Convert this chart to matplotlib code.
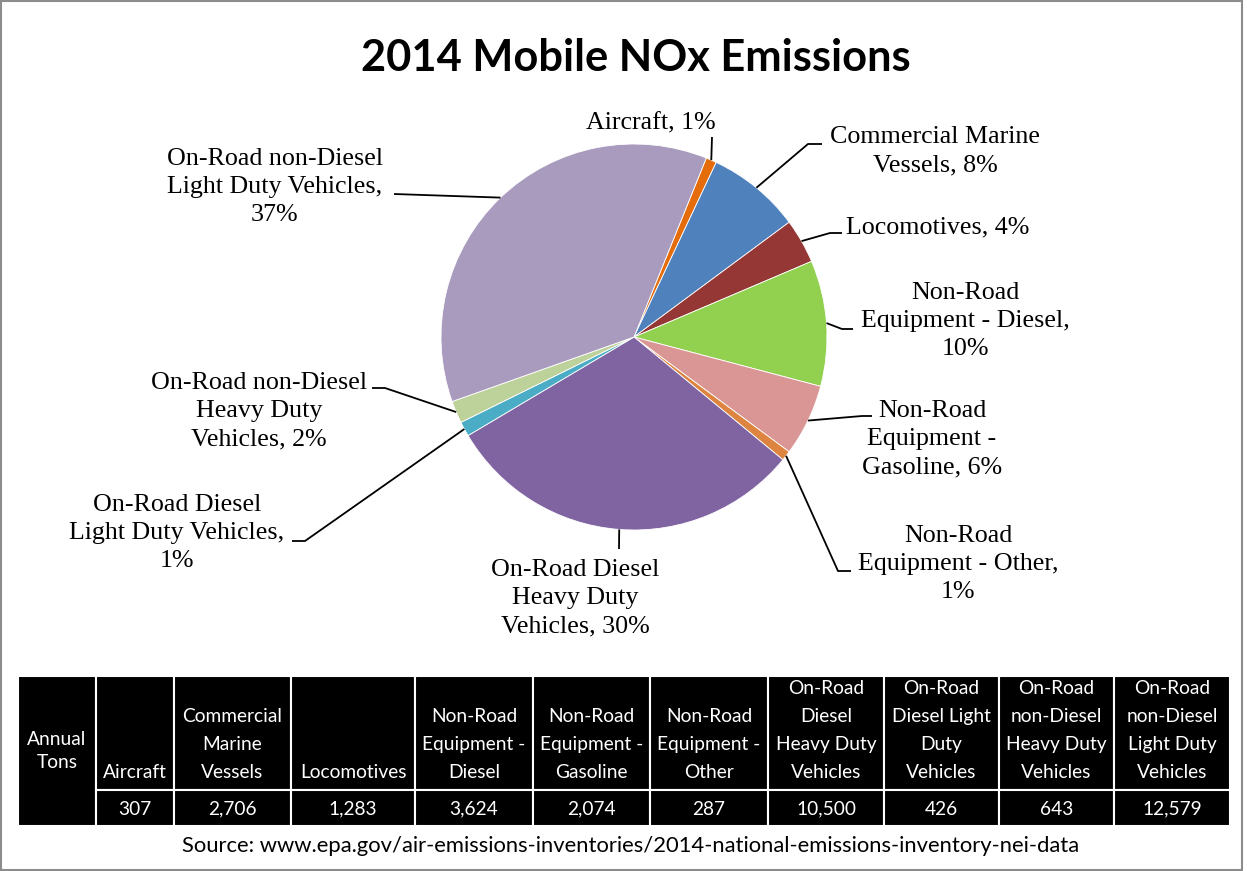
import matplotlib
matplotlib.use("Agg")
import matplotlib.pyplot as plt
from matplotlib.patches import Rectangle
import numpy as np

# ---------------- data ----------------
categories = ["Aircraft", "Commercial Marine Vessels", "Locomotives",
              "Non-Road Equipment - Diesel", "Non-Road Equipment - Gasoline",
              "Non-Road Equipment - Other", "On-Road Diesel Heavy Duty Vehicles",
              "On-Road Diesel Light Duty Vehicles", "On-Road non-Diesel Heavy Duty Vehicles",
              "On-Road non-Diesel Light Duty Vehicles"]
tons = [307, 2706, 1283, 3624, 2074, 287, 10500, 426, 643, 12579]
pie_labels = ["Aircraft, 1%", "Commercial Marine\nVessels, 8%", "Locomotives, 4%",
              "Non-Road\nEquipment - Diesel,\n10%", "Non-Road\nEquipment -\nGasoline, 6%",
              "Non-Road\nEquipment - Other,\n1%", "On-Road Diesel\nHeavy Duty\nVehicles, 30%",
              "On-Road Diesel\nLight Duty Vehicles,\n1%", "On-Road non-Diesel\nHeavy Duty\nVehicles, 2%",
              "On-Road non-Diesel\nLight Duty Vehicles,\n37%"]
table_headers = ["Aircraft", "Commercial\nMarine\nVessels", "Locomotives",
                 "Non-Road\nEquipment -\nDiesel", "Non-Road\nEquipment -\nGasoline",
                 "Non-Road\nEquipment -\nOther", "On-Road\nDiesel\nHeavy Duty\nVehicles",
                 "On-Road\nDiesel Light\nDuty\nVehicles", "On-Road\nnon-Diesel\nHeavy Duty\nVehicles",
                 "On-Road\nnon-Diesel\nLight Duty\nVehicles"]
table_values = ["307", "2,706", "1,283", "3,624", "2,074", "287", "10,500", "426", "643", "12,579"]
row_header = "Annual\nTons"
title = "2014 Mobile NOx Emissions"
source = "Source: www.epa.gov/air-emissions-inventories/2014-national-emissions-inventory-nei-data"

colors = ["#E46C0A", "#4F81BD", "#953735", "#92D050", "#D99694",
          "#DD8540", "#8064A2", "#4BACC6", "#BDD29A", "#A99BBD"]

# ---------------- layout (pixel space) ----------------
W, H = 1247, 871
fig = plt.figure(figsize=(W / 100, H / 100), dpi=100)
ax = fig.add_axes([0, 0, 1, 1])
renderer = fig.canvas.get_renderer()

def Y(y):
    return H - y

def fit(s, target, **kw):
    t = ax.text(0, 0, s, fontsize=10, **kw)
    w = t.get_window_extent(renderer=renderer).width
    t.remove()
    return 10 * target / w

SANS = ["Lato", "DejaVu Sans"]
SERIF = ["Liberation Serif", "DejaVu Serif"]

cx, cy, R = 634, 337, 193
wedges, _ = ax.pie(tons, colors=colors, startangle=68, counterclock=False,
                   center=(cx, Y(cy)), radius=R,
                   wedgeprops=dict(edgecolor="white", linewidth=0.6))
ax.set_xlim(0, W)
ax.set_ylim(0, H)
ax.set_aspect("auto")
ax.axis("off")

# label placement: (text center), elbow point, end point
label_layout = [
    ((651, 123), None, (712, 137)),
    ((935, 151), (808, 144), (822, 144)),
    ((938, 227), (830, 233), (842, 233)),
    ((965, 321), (842, 329), (853, 329)),
    ((932, 439), (862, 416), (872, 416)),
    ((958, 564), (838, 571), (851, 571)),
    ((575, 598), None, (619, 549)),
    ((177, 533), (305, 541), (292, 541)),
    ((259, 411), (385, 388), (372, 388)),
    ((275, 187), None, (394, 194)),
]

lab_fs = fit("Locomotives, 4%", 183, family=SERIF)
for w, lab, (tpos, elbow, end) in zip(wedges, pie_labels, label_layout):
    mid = np.deg2rad((w.theta1 + w.theta2) / 2)
    ex = cx + R * np.cos(mid)
    ey = Y(cy) + R * np.sin(mid)
    xs = [ex]
    ys = [ey]
    if elbow is not None:
        xs.append(elbow[0]); ys.append(Y(elbow[1]))
    xs.append(end[0]); ys.append(Y(end[1]))
    ax.plot(xs, ys, color="black", lw=1.3, solid_capstyle="butt")
    ax.text(tpos[0], Y(tpos[1]), lab, ha="center", va="center", family=SERIF,
            fontsize=lab_fs, linespacing=1.37)

# title
tfs = fit(title, 550, family=SANS, weight="bold")
ax.text(636, Y(58), title, ha="center", va="center", family=SANS, weight="bold", fontsize=tfs)

# ---------------- table ----------------
col_edges = [18, 96, 174, 291, 415, 533, 650, 768, 884, 999, 1114, 1230]
top, mid_line, bot = 676, 790, 826
tab_fs = fit("Commercial", 100, family=SANS)
line_h = 28
# merged row header
ax.add_patch(Rectangle((col_edges[0], Y(bot)), col_edges[1] - col_edges[0], bot - top,
                       facecolor="black", edgecolor="white", lw=1.5))
ax.text((col_edges[0] + col_edges[1]) / 2, Y((top + bot) / 2), row_header, ha="center",
        va="center", color="white", family=SANS, fontsize=tab_fs, linespacing=1.45)
for i, (hdr, val) in enumerate(zip(table_headers, table_values)):
    x0, x1 = col_edges[i + 1], col_edges[i + 2]
    ax.add_patch(Rectangle((x0, Y(mid_line)), x1 - x0, mid_line - top,
                           facecolor="black", edgecolor="white", lw=1.5))
    ax.add_patch(Rectangle((x0, Y(bot)), x1 - x0, bot - mid_line,
                           facecolor="black", edgecolor="white", lw=1.5))
    lines = hdr.split("\n")
    for k, ln in enumerate(reversed(lines)):
        ax.text((x0 + x1) / 2, Y(772 - k * line_h), ln, ha="center", va="center",
                color="white", family=SANS, fontsize=tab_fs)
    ax.text((x0 + x1) / 2, Y(809), val, ha="center", va="center", color="white",
            family=SANS, fontsize=tab_fs)

sfs = fit(source, 903, family=SANS)
ax.text(631, Y(846), source, ha="center", va="center", family=SANS, fontsize=sfs)

# outer frame
ax.add_patch(Rectangle((1, 1), 1241, H - 2.5, fill=False, edgecolor="#8c8c8c", lw=1.5))

fig.savefig("out.png", dpi=100)
